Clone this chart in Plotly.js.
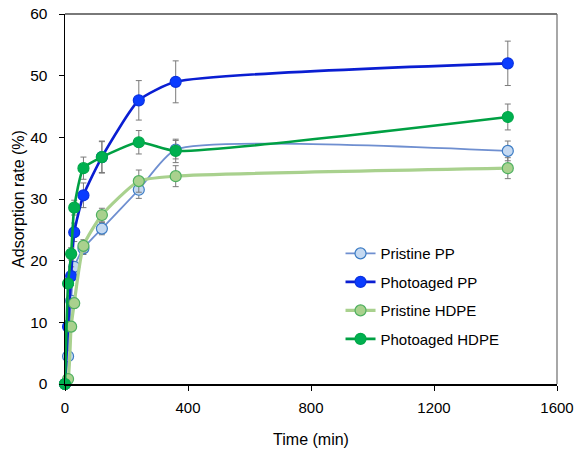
<!DOCTYPE html>
<html>
<head>
<meta charset="utf-8">
<script src="https://cdn.plot.ly/plotly-3.0.1.min.js"></script>
<style>html,body{margin:0;padding:0;background:#fff;} #chart{width:576px;height:455px;}</style>
</head>
<body>
<div id="chart"></div>
<script>
// Time points (min)
var times = [0, 10, 20, 30, 60, 120, 240, 360, 1440];

// Adsorption rate (%)
var pristinePP     = [0, 4.5, 13.5, 19.0, 22.0, 25.2, 31.5, 38.0, 37.8];
var photoagedPP    = [0, 9.3, 17.5, 24.6, 30.6, 36.8, 46.0, 49.0, 52.0];
var pristineHDPE   = [0, 0.8, 9.3, 13.1, 22.4, 27.4, 32.9, 33.7, 35.0];
var photoagedHDPE  = [0, 16.3, 21.1, 28.6, 35.0, 36.8, 39.2, 37.8, 43.3];

// Error (±)
var errPristinePP    = [0, 0.5, 0.8, 0.8, 1.0, 1.0, 1.4, 1.5, 1.6];
var errPhotoagedPP   = [0, 1.0, 1.5, 1.5, 2.0, 2.5, 3.2, 3.4, 3.6];
var errPristineHDPE  = [0, 0.5, 0.8, 0.8, 1.0, 1.1, 1.8, 1.7, 1.7];
var errPhotoagedHDPE = [0, 0.8, 1.0, 1.2, 1.8, 2.6, 1.9, 1.9, 2.1];

var names = ['Pristine PP', 'Photoaged PP', 'Pristine HDPE', 'Photoaged HDPE'];

function mk(name, y, err, lineColor, lineWidth, fill, edge, group) {
  return {
    x: times, y: y, name: name, type: 'scatter', mode: 'lines+markers',
    legendgroup: group,
    cliponaxis: false,
    line: {color: lineColor, width: lineWidth, shape: 'spline', smoothing: 0.55},
    marker: {size: 11, color: fill, line: {color: edge, width: 1.2}},
    error_y: {type: 'data', array: err, visible: true, color: '#7a7a7a', thickness: 1, width: 3}
  };
}

var data = [
  mk(names[0], pristinePP, errPristinePP, '#6f8fd0', 1.8, '#c5d9f1', '#3c7cc4', 'g1'),
  mk(names[1], photoagedPP, errPhotoagedPP, '#0a1ed2', 2.6, '#0a3cff', '#0a32e0', 'g2'),
  mk(names[2], pristineHDPE, errPristineHDPE, '#a9d18e', 3.2, '#a9d18e', '#4fb060', 'g3'),
  mk(names[3], photoagedHDPE, errPhotoagedHDPE, '#00a043', 2.6, '#00b050', '#00a848', 'g4')
];

var font = 'Liberation Sans, Arial, sans-serif';

var layout = {
  width: 576, height: 455,
  margin: {l: 65, r: 19, t: 14, b: 71},
  paper_bgcolor: '#ffffff', plot_bgcolor: '#ffffff',
  font: {family: font, size: 15, color: '#000'},
  showlegend: true,
  legend: {
    x: 0.56, y: 0.397, xanchor: 'left', yanchor: 'top',
    font: {family: font, size: 15, color: '#000'},
    bgcolor: 'rgba(255,255,255,0)', traceorder: 'grouped', tracegroupgap: 6
  },
  xaxis: {
    range: [0, 1600], tickvals: [0, 400, 800, 1200, 1600],
    showgrid: false, zeroline: false,
    showline: true, linecolor: '#000', linewidth: 1.5,
    ticks: 'outside', ticklen: 5, tickcolor: '#000', tickwidth: 1,
    ticklabelstandoff: 4,
    tickfont: {family: font, size: 15},
    title: {text: 'Time (min)', font: {family: font, size: 16}, standoff: 19}
  },
  yaxis: {
    range: [0, 60], dtick: 10,
    showgrid: false, zeroline: false,
    showline: true, linecolor: '#000', linewidth: 1.5,
    ticks: 'outside', ticklen: 5, tickcolor: '#000', tickwidth: 1,
    ticklabelstandoff: 8,
    tickfont: {family: font, size: 15.5},
    title: {text: 'Adsorption rate (%)', font: {family: font, size: 16}, standoff: 1}
  },
  shapes: [
    {type: 'line', xref: 'paper', yref: 'paper', x0: 0, x1: 1, y0: 1, y1: 1, line: {color: '#4d4d4d', width: 1.5}},
    {type: 'line', xref: 'paper', yref: 'paper', x0: 1, x1: 1, y0: 0, y1: 1, line: {color: '#6d6d6d', width: 1.2}}
  ]
};

Plotly.newPlot('chart', data, layout, {displayModeBar: false, staticPlot: true});
</script>
</body>
</html>
